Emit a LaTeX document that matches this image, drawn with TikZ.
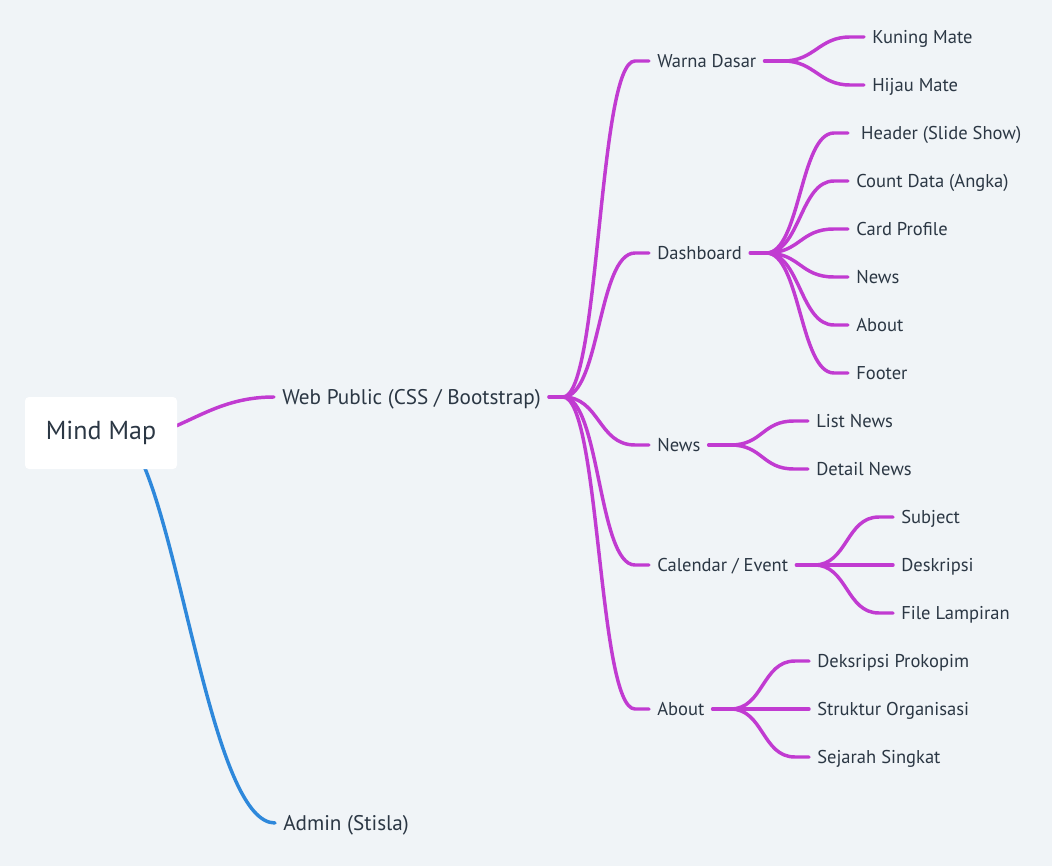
\documentclass[tikz,border=0pt]{standalone}
\usepackage{fontspec}
\setmainfont{PT Sans}
\usepackage{xcolor}
\usepackage{tikz}
\usetikzlibrary{calc, backgrounds}
\definecolor{paper}{HTML}{F0F4F7}
\definecolor{ink}{HTML}{2B3744}
\definecolor{plum}{HTML}{C13BD1}
\definecolor{sky}{HTML}{2E88DB}
\tikzset{
    root/.style={
        rectangle,
        rounded corners=3pt,
        fill=white,
        minimum width=114pt,
        minimum height=54pt,
        text=ink,
        font=\fontsize{19.5}{22}\selectfont
    },
    topic/.style={
        anchor=west,
        inner xsep=6pt,
        inner ysep=1pt,
        text height=9.7pt,
        text depth=0pt,
        text=ink,
        font=\fontsize{13.9}{16}\selectfont
    },
    main/.style={
        topic,
        text height=11.1pt,
        font=\fontsize{15.9}{18}\selectfont
    },
    webline/.style={
        draw=plum,
        line width=2.6pt,
        line cap=round
    },
    adminline/.style={
        draw=sky,
        line width=2.6pt,
        line cap=round
    },
    twig/.style={
        to path={.. controls +(#1,0) and +(-#1,0) .. ($(\tikztotarget)+(-14,0)$) -- (\tikztotarget)}
    }
}

\begin{document}
\begin{tikzpicture}[x=0.75pt, y=-0.75pt]

\useasboundingbox (0,0) rectangle (1052,866);

\node[root] (root) at (101,433) {Mind Map};
\node[main] (web) at (274,397) {Web Public (CSS / Bootstrap)};
\node[main] (admin) at (275,823) {Admin (Stisla)};

\node[topic] (warna) at (649,61) {Warna Dasar};
\node[topic] (dash) at (649,253) {Dashboard};
\node[topic] (news) at (649,445) {News};
\node[topic] (cal) at (649,565) {Calendar / Event};
\node[topic] (about) at (649,709) {About};

\node[topic] (kuning) at (864,37) {Kuning Mate};
\node[topic] (hijau) at (864,85) {Hijau Mate};

\node[topic] (header) at (848,133) {\ Header (Slide Show)};
\node[topic] (count) at (848,181) {Count Data (Angka)};
\node[topic] (card) at (848,229) {Card Profile};
\node[topic] (dnews) at (848,277) {News};
\node[topic] (dabout) at (848,325) {About};
\node[topic] (footer) at (848,373) {Footer};

\node[topic] (list) at (808,421) {List News};
\node[topic] (detail) at (808,469) {Detail News};

\node[topic] (subject) at (893,517) {Subject};
\node[topic] (desk) at (893,565) {Deskripsi};
\node[topic] (file) at (893,613) {File Lampiran};

\node[topic] (prokopim) at (809,661) {Deksripsi Prokopim};
\node[topic] (struktur) at (809,709) {Struktur Organisasi};
\node[topic] (sejarah) at (809,757) {Sejarah Singkat};

% lines from the root sit under the white box
\begin{scope}[on background layer]
\fill[paper] (0,0) rectangle (1052,866);
\draw[webline] ($(root.east)+(-6,-5)$) .. controls +(31,-13) and +(-45,0) .. (web.west);
\draw[adminline] ($(root.south)+(41,-8)$) .. controls +(43,97) and +(-59,0) .. (admin.west);
\end{scope}

% web public branch
\draw[webline] (web.east) -- ++(14,0) coordinate (webj);
\draw[webline] (webj) to[twig=37] (warna.west);
\draw[webline] (webj) to[twig=37] (dash.west);
\draw[webline] (webj) to[twig=37] (news.west);
\draw[webline] (webj) to[twig=37] (cal.west);
\draw[webline] (webj) to[twig=37] (about.west);

\draw[webline] (warna.east) -- ++(19,0) coordinate (warnaj);
\draw[webline] (warnaj) to[twig=31] (kuning.west);
\draw[webline] (warnaj) to[twig=31] (hijau.west);

\draw[webline] (dash.east) -- ++(16,0) coordinate (dashj);
\draw[webline] (dashj) to[twig=34] (header.west);
\draw[webline] (dashj) to[twig=34] (count.west);
\draw[webline] (dashj) to[twig=34] (card.west);
\draw[webline] (dashj) to[twig=34] (dnews.west);
\draw[webline] (dashj) to[twig=34] (dabout.west);
\draw[webline] (dashj) to[twig=34] (footer.west);

\draw[webline] (news.east) -- ++(22,0) coordinate (newsj);
\draw[webline] (newsj) to[twig=32] (list.west);
\draw[webline] (newsj) to[twig=32] (detail.west);

\draw[webline] (cal.east) -- ++(18,0) coordinate (calj);
\draw[webline] (calj) to[twig=33] (subject.west);
\draw[webline] (calj) to[twig=33] (desk.west);
\draw[webline] (calj) to[twig=33] (file.west);

\draw[webline] (about.east) -- ++(18,0) coordinate (aboutj);
\draw[webline] (aboutj) to[twig=33] (prokopim.west);
\draw[webline] (aboutj) to[twig=33] (struktur.west);
\draw[webline] (aboutj) to[twig=33] (sejarah.west);

\end{tikzpicture}
\end{document}
